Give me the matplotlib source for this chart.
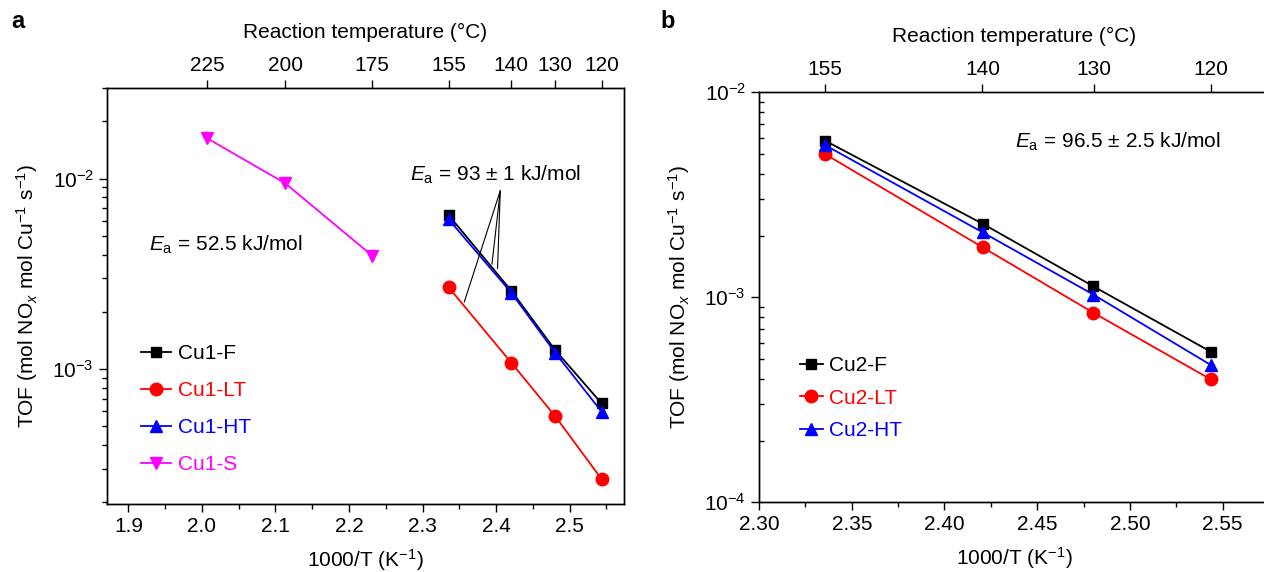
import numpy as np
import matplotlib.pyplot as plt
from matplotlib.ticker import LogLocator, NullFormatter, MultipleLocator

plt.rcParams['font.family'] = ['Liberation Sans', 'DejaVu Sans']
plt.rcParams['mathtext.fontset'] = 'custom'
plt.rcParams['mathtext.rm'] = 'Liberation Sans'
plt.rcParams['mathtext.it'] = 'Liberation Sans:italic'
plt.rcParams['font.size'] = 15
plt.rcParams['axes.linewidth'] = 1.0

# panel a data: 1000/T (K^-1) and TOF
inv_T_a = [2.3355, 2.4207, 2.4803, 2.5435]
cu1_f = [6.44e-3, 2.58e-3, 1.26e-3, 6.6e-4]
cu1_lt = [2.69e-3, 1.08e-3, 5.66e-4, 2.64e-4]
cu1_ht = [6.12e-3, 2.52e-3, 1.22e-3, 5.97e-4]
inv_T_s = [2.0074, 2.1134, 2.2313]
cu1_s = [1.63e-2, 9.46e-3, 3.95e-3]
temps_a = [225, 200, 175, 155, 140, 130, 120]

# panel b data
inv_T_b = [2.3355, 2.4207, 2.4803, 2.5435]
cu2_f = [5.81e-3, 2.28e-3, 1.13e-3, 5.43e-4]
cu2_lt = [5.0e-3, 1.75e-3, 8.4e-4, 3.98e-4]
cu2_ht = [5.53e-3, 2.07e-3, 1.03e-3, 4.68e-4]
temps_b = [155, 140, 130, 120]

ylab = 'TOF (mol NO$_x$ mol Cu$^{-1}$ s$^{-1}$)'
xlab = '1000/T (K$^{-1}$)'
toplab = 'Reaction temperature (°C)'


def to_inv(t):
    return [1000.0 / (v + 273.15) for v in t]


fig = plt.figure(figsize=(12.64, 5.72), dpi=100)

# ---- panel a ----
ax = fig.add_axes([0.0847, 0.1189, 0.409, 0.7273])
ax.plot(inv_T_a, cu1_f, '-s', color='black', ms=7.5, lw=1.3, label='Cu1-F')
ax.plot(inv_T_a, cu1_lt, '-o', color='red', ms=9, lw=1.3, label='Cu1-LT')
ax.plot(inv_T_a, cu1_ht, '-^', color='blue', ms=9, lw=1.3, label='Cu1-HT')
ax.plot(inv_T_s, cu1_s, '-v', color='magenta', ms=9, lw=1.3, label='Cu1-S')
ax.set_yscale('log')
ax.set_xlim(1.871, 2.574)
ax.set_ylim(1.955e-4, 3.0e-2)
ax.xaxis.set_major_locator(MultipleLocator(0.1))
ax.xaxis.set_minor_locator(MultipleLocator(0.05))
ax.yaxis.set_minor_locator(LogLocator(base=10, subs=np.arange(2, 10)))
ax.yaxis.set_minor_formatter(NullFormatter())
ax.tick_params(which='both', direction='out', top=False, right=False)
ax.tick_params(which='major', length=6, width=1)
ax.tick_params(which='minor', length=3.5, width=1)
ax.set_xlabel(xlab, labelpad=8)
ax.set_ylabel(ylab, labelpad=9)

ax.text(2.033, 4.49e-3, '$E_\\mathrm{a}$ = 52.5 kJ/mol', ha='center', va='center')
ax.text(2.399, 1.045e-2, '$E_\\mathrm{a}$ = 93 ± 1 kJ/mol', ha='center', va='center')
for px, py in [(2.3567, 2.25e-3), (2.3944, 3.56e-3), (2.402, 3.38e-3)]:
    ax.annotate('', xy=(px, py), xytext=(2.4057, 8.65e-3),
                arrowprops=dict(arrowstyle='-', lw=0.8, color='black',
                                shrinkA=0, shrinkB=0))

ax.legend(loc='upper left', bbox_to_anchor=(0.066, 0.385), frameon=False,
          borderpad=0, borderaxespad=0, handlelength=1.45,
          handletextpad=0.32, labelspacing=0.87, labelcolor='linecolor')

axt = ax.twiny()
axt.set_xlim(ax.get_xlim())
axt.set_xticks(to_inv(temps_a))
axt.set_xticklabels([str(t) for t in temps_a])
axt.tick_params(which='major', direction='out', length=6, width=1)
axt.set_xlabel(toplab, labelpad=13)

# ---- panel b ----
bx = fig.add_axes([0.6005, 0.1219, 0.4035, 0.7168])
bx.plot(inv_T_b, cu2_f, '-s', color='black', ms=7.5, lw=1.3, label='Cu2-F')
bx.plot(inv_T_b, cu2_lt, '-o', color='red', ms=9, lw=1.3, label='Cu2-LT')
bx.plot(inv_T_b, cu2_ht, '-^', color='blue', ms=9, lw=1.3, label='Cu2-HT')
bx.set_yscale('log')
bx.set_xlim(2.30, 2.575)
bx.set_ylim(1e-4, 1e-2)
bx.xaxis.set_major_locator(MultipleLocator(0.05))
bx.xaxis.set_minor_locator(MultipleLocator(0.025))
bx.xaxis.set_major_formatter(plt.FormatStrFormatter('%.2f'))
bx.yaxis.set_minor_locator(LogLocator(base=10, subs=np.arange(2, 10)))
bx.yaxis.set_minor_formatter(NullFormatter())
bx.tick_params(which='both', top=False, right=False)
bx.tick_params(axis='x', which='both', direction='out')
bx.tick_params(axis='y', which='major', direction='out')
bx.tick_params(axis='y', which='minor', direction='in')
bx.tick_params(which='major', length=6, width=1)
bx.tick_params(which='minor', length=3.5, width=1)
bx.set_xlabel(xlab, labelpad=8)
bx.set_ylabel(ylab, labelpad=9)

bx.text(2.4936, 5.74e-3, '$E_\\mathrm{a}$ = 96.5 ± 2.5 kJ/mol', ha='center', va='center')

bx.legend(loc='upper left', bbox_to_anchor=(0.08, 0.356), frameon=False,
          borderpad=0, borderaxespad=0, handlelength=1.1,
          handletextpad=0.32, labelspacing=0.64, labelcolor='linecolor')

bxt = bx.twiny()
bxt.set_xlim(bx.get_xlim())
bxt.set_xticks(to_inv(temps_b))
bxt.set_xticklabels([str(t) for t in temps_b])
bxt.tick_params(which='major', direction='out', length=6, width=1)
bxt.set_xlabel(toplab, labelpad=13)

fig.text(18 / 1264, 1 - 22 / 572, 'a', fontsize=17, fontweight='bold', ha='center', va='center')
fig.text(668 / 1264, 1 - 22 / 572, 'b', fontsize=17, fontweight='bold', ha='center', va='center')

fig.savefig('out.png', dpi=100)
